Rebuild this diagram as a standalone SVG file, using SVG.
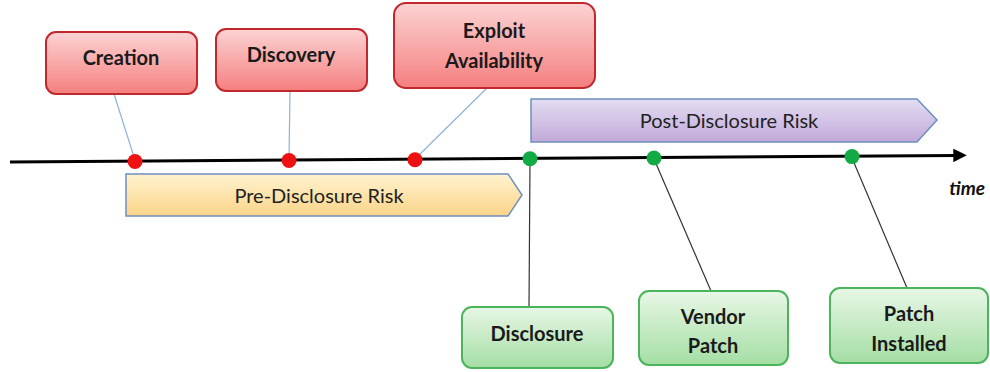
<svg xmlns="http://www.w3.org/2000/svg" width="990" height="372" viewBox="0 0 990 372">
<defs>
<linearGradient id="gRed" x1="0" y1="0" x2="0" y2="1"><stop offset="0" stop-color="#fcd3d3"/><stop offset="1" stop-color="#f57f7f"/></linearGradient>
<linearGradient id="gGreen" x1="0" y1="0" x2="0" y2="1"><stop offset="0" stop-color="#e8f7e6"/><stop offset="1" stop-color="#a4dea4"/></linearGradient>
<linearGradient id="gPre" x1="0" y1="0" x2="0" y2="1"><stop offset="0" stop-color="#fff3cf"/><stop offset="1" stop-color="#fbd489"/></linearGradient>
<linearGradient id="gPost" x1="0" y1="0" x2="0" y2="1"><stop offset="0" stop-color="#e3ddf2"/><stop offset="1" stop-color="#c2a9da"/></linearGradient>
<marker id="arrow" viewBox="0 0 10 10" refX="2" refY="5" markerWidth="4.5" markerHeight="4.5" orient="auto" markerUnits="strokeWidth"><path d="M0,0 L10,5 L0,10 Z" fill="#000"/></marker>
</defs>
<style>
.red{fill:url(#gRed);stroke:#c0282d;stroke-width:2}
.green{fill:url(#gGreen);stroke:#4cb45a;stroke-width:2}
.lbl{font-family:Lato,"Liberation Sans",sans-serif;font-weight:bold;font-size:20px;fill:#1a1a1a;text-anchor:middle}
.risk{font-family:Lato,"Liberation Sans",sans-serif;font-size:20px;fill:#222;text-anchor:middle}
.cb{stroke:#8fb2d9;stroke-width:1.2;fill:none}
.cg{stroke:#333;stroke-width:1.2;fill:none}
.rd{fill:#ee1111}
.gd{fill:#11aa44}
</style>
<rect width="990" height="372" fill="#fff"/>
<g id="pre-risk">
<path d="M126,174 L508,174 L522,195 L508,216 L126,216 Z" fill="url(#gPre)" stroke="#6d8fbf" stroke-width="1.5"/>
<text class="risk" x="319" y="203">Pre-Disclosure Risk</text>
</g>
<g id="post-risk">
<path d="M531,99 L917,99 L937,120 L917,142 L531,142 Z" fill="url(#gPost)" stroke="#6d8fbf" stroke-width="1.5"/>
<text class="risk" x="729" y="128">Post-Disclosure Risk</text>
</g>
<g id="connectors">
<line class="cb" x1="114" y1="94" x2="135" y2="160"/>
<line class="cb" x1="290" y1="91" x2="289" y2="159"/>
<line class="cb" x1="487" y1="88" x2="415" y2="159"/>
<line class="cg" x1="530" y1="159" x2="529" y2="307"/>
<line class="cg" x1="654" y1="159" x2="711" y2="291"/>
<line class="cg" x1="852" y1="158" x2="907" y2="288"/>
</g>
<g id="timeline">
<line x1="10" y1="162" x2="956" y2="155.4" stroke="#000" stroke-width="3" marker-end="url(#arrow)"/>
<text x="985" y="195" font-family="Lato,'Liberation Sans',sans-serif" font-weight="bold" font-style="italic" font-size="19" fill="#111" text-anchor="end">time</text>
</g>
<g id="dots">
<circle class="rd" cx="135" cy="161.5" r="7.5"/>
<circle class="rd" cx="289" cy="160.5" r="7.5"/>
<circle class="rd" cx="415" cy="159.7" r="7.5"/>
<circle class="gd" cx="530" cy="158.8" r="7.5"/>
<circle class="gd" cx="654" cy="158" r="7.5"/>
<circle class="gd" cx="852" cy="156.6" r="7.5"/>
</g>
<g id="creation">
<rect class="red" x="46" y="32" width="151" height="62" rx="10"/>
<text class="lbl" x="121" y="65">Creation</text>
</g>
<g id="discovery">
<rect class="red" x="216" y="29" width="151" height="62" rx="10"/>
<text class="lbl" x="291" y="62">Discovery</text>
</g>
<g id="exploit">
<rect class="red" x="394" y="3" width="201" height="85" rx="12"/>
<text class="lbl" x="494" y="38">Exploit</text>
<text class="lbl" x="494" y="68">Availability</text>
</g>
<g id="disclosure">
<rect class="green" x="462" y="307" width="151" height="61" rx="10"/>
<text class="lbl" x="537" y="341">Disclosure</text>
</g>
<g id="vendor-patch">
<rect class="green" x="639" y="291" width="149" height="74" rx="10"/>
<text class="lbl" x="713" y="324">Vendor</text>
<text class="lbl" x="713" y="353">Patch</text>
</g>
<g id="patch-installed">
<rect class="green" x="830" y="288" width="158" height="75" rx="10"/>
<text class="lbl" x="909" y="321">Patch</text>
<text class="lbl" x="909" y="351">Installed</text>
</g>
</svg>
